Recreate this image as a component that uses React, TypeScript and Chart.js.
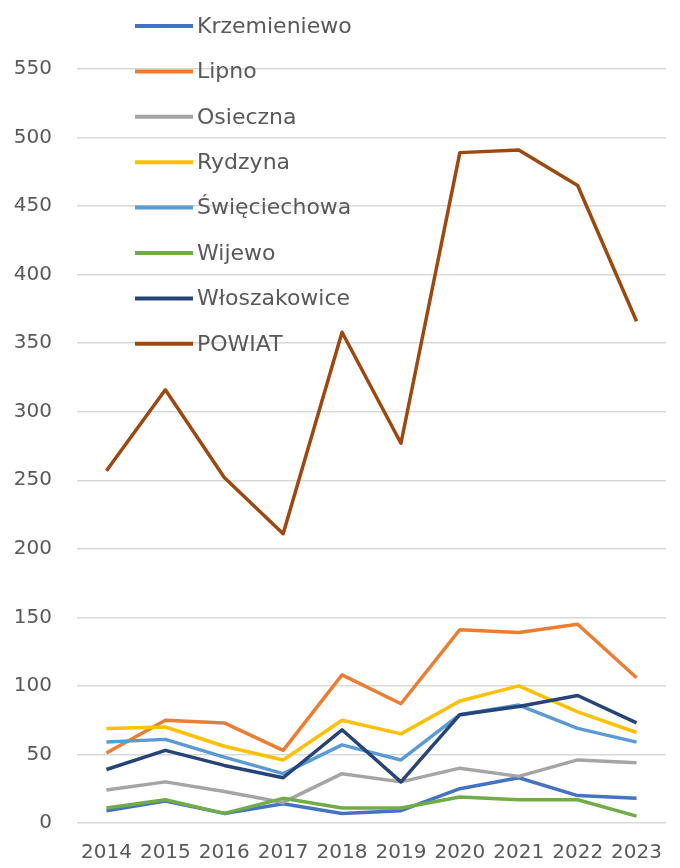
import React, { useEffect, useRef } from "react";
import { Chart, registerables } from "chart.js";

Chart.register(...registerables);

const years = ["2014", "2015", "2016", "2017", "2018", "2019", "2020", "2021", "2022", "2023"];
const seriesNames = ["Krzemieniewo", "Lipno", "Osieczna", "Rydzyna", "Święciechowa", "Wijewo", "Włoszakowice", "POWIAT"];
const krzemieniewo = [9, 16, 7, 14, 7, 9, 25, 33, 20, 18];
const lipno = [51, 75, 73, 53, 108, 87, 141, 139, 145, 106];
const osieczna = [24, 30, 23, 15, 36, 30, 40, 34, 46, 44];
const rydzyna = [69, 70, 56, 46, 75, 65, 89, 100, 81, 66];
const swieciechowa = [59, 61, 48, 36, 57, 46, 79, 86, 69, 59];
const wijewo = [11, 17, 7, 18, 11, 11, 19, 17, 17, 5];
const wloszakowice = [39, 53, 42, 33, 68, 30, 79, 85, 93, 73];
const powiat = [257, 316, 252, 211, 358, 277, 489, 491, 465, 366];
const colors = ["#4472C4", "#ED7D31", "#A5A5A5", "#FFC000", "#5B9BD5", "#70AD47", "#264478", "#9E480E"];
const yTicks = [0, 50, 100, 150, 200, 250, 300, 350, 400, 450, 500, 550];

const TEXT = "#595959";
const FONT = "DejaVu Sans";

const legendPlugin = {
  id: "customLegend",
  afterDraw(chart: any) {
    const ctx = chart.ctx;
    ctx.save();
    ctx.font = `22px "${FONT}"`;
    ctx.textBaseline = "middle";
    ctx.textAlign = "left";
    chart.data.datasets.forEach((ds: any, i: number) => {
      const y = 26 + i * 45.4;
      ctx.strokeStyle = ds.borderColor;
      ctx.lineWidth = 4;
      ctx.lineCap = "butt";
      ctx.beginPath();
      ctx.moveTo(135, y);
      ctx.lineTo(193, y);
      ctx.stroke();
      ctx.fillStyle = TEXT;
      ctx.fillText(ds.label, 197, y + 1);
    });
    ctx.restore();
  },
};

export default function App() {
  const ref = useRef<HTMLCanvasElement>(null);
  useEffect(() => {
    document.body.style.margin = "0";
    const all = [krzemieniewo, lipno, osieczna, rydzyna, swieciechowa, wijewo, wloszakowice, powiat];
    const chart = new Chart(ref.current!, {
      type: "line",
      data: {
        labels: years,
        datasets: all.map((d, i) => ({
          label: seriesNames[i],
          data: d,
          borderColor: colors[i],
          backgroundColor: colors[i],
          borderWidth: 3.5,
          pointRadius: 0,
          tension: 0,
          borderJoinStyle: "round" as const,
          order: -i,
        })),
      },
      options: {
        animation: false,
        responsive: false,
        maintainAspectRatio: false,
        layout: { padding: { top: 69, right: 0, left: 0, bottom: 0 } },
        plugins: { legend: { display: false }, tooltip: { enabled: false } },
        scales: {
          x: {
            offset: true,
            grid: { display: false, drawTicks: false },
            border: { display: false },
            ticks: { color: TEXT, font: { family: FONT, size: 20 }, padding: 18, maxRotation: 0 },
            afterFit: (s: any) => { s.height = 45; },
          },
          y: {
            min: 0,
            max: 550,
            afterBuildTicks: (s: any) => { s.ticks = yTicks.map((v) => ({ value: v })); },
            grid: { color: "#D9D9D9", lineWidth: 1.5, drawTicks: false },
            border: { display: false },
            ticks: { color: TEXT, font: { family: FONT, size: 20 }, padding: 25 },
            afterFit: (s: any) => { s.width = 77; },
          },
        },
      },
      plugins: [legendPlugin],
    });
    return () => chart.destroy();
  }, []);
  return <canvas ref={ref} width={680} height={868} style={{ display: "block" }} />;
}
